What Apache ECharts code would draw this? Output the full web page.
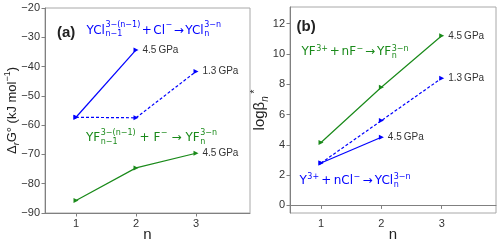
<!DOCTYPE html>
<html><head><meta charset="utf-8">
<script src="https://cdn.jsdelivr.net/npm/echarts@6/dist/echarts.min.js"></script>
<style>html,body{margin:0;padding:0;background:#fff}#c{width:500px;height:244px}</style>
</head><body><div id="c"></div>
<script>
// ---- data ----
const nValues = [1, 2, 3];
const xTicks = [1, 2, 3];
// panel (a): Δr G° (kJ/mol)
const dG_Cl_45 = [-57.3, -34.3];
const dG_Cl_13 = [-57.3, -57.5, -41.7];
const dG_F_45 = [-85.7, -74.6, -69.6];
const yTicksA = [-90, -80, -70, -60, -50, -40, -30, -20];
// panel (b): log beta_n*
const lb_F_45 = [4.15, 7.8, 11.2];
const lb_Cl_13 = [2.8, 5.6, 8.4];
const lb_Cl_45 = [2.8, 4.5];
const yTicksB = [0, 2, 4, 6, 8, 10, 12];
const labelHigh = '4.5\u2009GPa';
const labelLow = '1.3\u2009GPa';

// ---- styles ----
const BLUE = '#0000ff', GREEN = '#1a8a1a';
const AX = '#808080', TXT = '#333333';
const SANS = '"Liberation Sans", Arial, sans-serif';
const MATH = '"DejaVu Sans", sans-serif';
const BASE = 12, SCR = 8;

function xAxisCfg(idx, min) {
  return {
    gridIndex: idx, type: 'value', min: min, max: 3.9,
    axisLine: { show: true, lineStyle: { color: AX, width: 1 } },
    axisTick: { show: true, length: 3.5, inside: false, customValues: xTicks, lineStyle: { color: AX } },
    axisLabel: { customValues: xTicks, fontSize: 11, color: TXT, fontFamily: SANS, margin: 5 },
    splitLine: { show: false },
    name: 'n', nameLocation: 'middle', nameGap: 14, nameMoveOverlap: false,
    nameTextStyle: { fontSize: 15, color: '#222', fontFamily: SANS, verticalAlign: 'top' }
  };
}
function yAxisCfg(idx, min, max, ticks, name, rich, gap) {
  return {
    gridIndex: idx, type: 'value', min: min, max: max,
    axisLine: { show: true, lineStyle: { color: AX, width: 1 } },
    axisTick: { show: true, length: 3.5, inside: false, customValues: ticks, lineStyle: { color: AX } },
    axisLabel: { customValues: ticks, fontSize: 11, color: TXT, fontFamily: SANS, margin: 5,
      formatter: v => String(v).replace('-', '\u2212') },
    splitLine: { show: false },
    name: name, nameLocation: 'middle', nameGap: gap, nameMoveOverlap: false,
    nameTextStyle: { rich: rich }
  };
}
function makeRich(size, sub) {
  return {
    a: { fontSize: size, fontFamily: SANS, color: '#222', lineHeight: size + 5 },
    s: { fontSize: sub, fontFamily: SANS, color: '#222', lineHeight: sub, verticalAlign: 'bottom', fontStyle: 'italic' },
    u: { fontSize: sub, fontFamily: SANS, color: '#222', lineHeight: sub, verticalAlign: 'top' }
  };
}

function lineSeries(xi, vals, color, dashed, label, off) {
  const data = vals.map((v, i) => {
    const item = { value: [nValues[i], v] };
    if (i === vals.length - 1) {
      item.label = { show: true, position: 'right', distance: 4, offset: off, formatter: label,
        color: TXT, fontSize: 10, fontFamily: SANS };
    }
    return item;
  });
  return {
    type: 'line', xAxisIndex: xi, yAxisIndex: xi, data: data,
    symbol: 'triangle', symbolSize: 5, symbolRotate: -90,
    itemStyle: { color: color },
    lineStyle: { color: color, width: 1.2, type: dashed ? [3, 2] : 'solid' },
    label: { show: false },
    labelLayout: { hideOverlap: false },
    z: 3
  };
}

// ---- math-like annotation layout (sequential, measured with canvas) ----
const mctx = document.createElement('canvas').getContext('2d');
function tw(t, size) { mctx.font = size + 'px "DejaVu Sans"'; return mctx.measureText(t).width; }
function mathGroup(tokens, x0, x1, baseline, color, supOff, subOff) {
  let natural = 0, gaps = 0;
  tokens.forEach(tk => {
    if (tk.g) gaps++;
    else if (tk.b) natural += tw(tk.b, BASE);
    else natural += Math.max(tk.p ? tw(tk.p, SCR) : 0, tk.d ? tw(tk.d, SCR) : 0) + 0.5;
  });
  const gap = gaps ? Math.max(0, (x1 - x0 - natural) / gaps) : 0;
  const out = [];
  let x = x0;
  const put = (t, size, bl) => out.push({
    type: 'text', x: x, y: bl - 0.36 * size, silent: true,
    style: { text: t, fill: color, font: size + 'px ' + MATH, align: 'left', verticalAlign: 'middle' }
  });
  tokens.forEach(tk => {
    if (tk.g) { x += gap; return; }
    if (tk.b) { put(tk.b, BASE, baseline); x += tw(tk.b, BASE); return; }
    x += 0.5;
    if (tk.p) put(tk.p, SCR, baseline + supOff);
    if (tk.d) put(tk.d, SCR, baseline + subOff);
    x += Math.max(tk.p ? tw(tk.p, SCR) : 0, tk.d ? tw(tk.d, SCR) : 0);
  });
  return out;
}
const M = '\u2212', AR = '\u2192';
const eqA_Cl = [{b:'YCl'},{p:'3'+M+'(n'+M+'1)',d:'n'+M+'1'},{g:1},{b:'+'},{g:1},{b:'Cl'},{p:M},{g:1},{b:AR},{g:1},{b:'YCl'},{p:'3'+M+'n',d:'n'}];
const eqA_F  = [{b:'YF'},{p:'3'+M+'(n'+M+'1)',d:'n'+M+'1'},{g:1},{b:'+'},{g:1},{b:'F'},{p:M},{g:1},{b:AR},{g:1},{b:'YF'},{p:'3'+M+'n',d:'n'}];
const eqB_F  = [{b:'YF'},{p:'3+'},{g:1},{b:'+'},{g:1},{b:'nF'},{p:M},{g:1},{b:AR},{g:1},{b:'YF'},{p:'3'+M+'n',d:'n'}];
const eqB_Cl = [{b:'Y'},{p:'3+'},{g:1},{b:'+'},{g:1},{b:'nCl'},{p:M},{g:1},{b:AR},{g:1},{b:'YCl'},{p:'3'+M+'n',d:'n'}];

const graphics = [].concat(
  mathGroup(eqA_Cl, 86.5, 221, 34.7, BLUE, -6.5, 2.5),
  mathGroup(eqA_F, 86, 217, 141.7, GREEN, -6, 3.2),
  mathGroup(eqB_F, 301.5, 408.5, 56, GREEN, -4, 3),
  mathGroup(eqB_Cl, 299.5, 410.5, 184.8, BLUE, -4.5, 3.5),
  [
    { type: 'text', x: 57, y: 33, style: { text: '(a)', fill: '#222', font: 'bold 15px ' + SANS, verticalAlign: 'middle' } },
    { type: 'text', x: 296.5, y: 27, style: { text: '(b)', fill: '#222', font: 'bold 15px ' + SANS, verticalAlign: 'middle' } }
  ]
);

const chart = echarts.init(document.getElementById('c'), null, { renderer: 'canvas' });
chart.setOption({
  animation: false,
  backgroundColor: '#fff',
  grid: [
    { left: 45, right: 250, top: 8, bottom: 31, show: true, borderColor: '#a8a8a8', borderWidth: 1,
      containLabel: false, outerBoundsMode: 'none' },
    { left: 290, right: 4, top: 7, bottom: 31, show: true, borderColor: '#a8a8a8', borderWidth: 1,
      containLabel: false, outerBoundsMode: 'none' }
  ],
  xAxis: [xAxisCfg(0, 0.483), xAxisCfg(1, 0.486)],
  yAxis: [
    yAxisCfg(0, -90, -20, yTicksA, '{a|Δ}{s|r}{a|G° (kJ mol}{u|' + M + '1}{a|)}', makeRich(13, 9), 24),
    yAxisCfg(1, -0.5, 13.1, yTicksB, '{a|logβ}{s|n}{u| *}', makeRich(15, 10), 20)
  ],
  series: [
    lineSeries(0, dG_Cl_45, BLUE, false, labelHigh, [1, -2.5]),
    lineSeries(0, dG_Cl_13, BLUE, true, labelLow, [1, -2.5]),
    lineSeries(0, dG_F_45, GREEN, false, labelHigh, [2, -3]),
    lineSeries(1, lb_F_45, GREEN, false, labelHigh, [1, -7]),
    lineSeries(1, lb_Cl_13, BLUE, true, labelLow, [1, 2]),
    lineSeries(1, lb_Cl_45, BLUE, false, labelHigh, [1, -2])
  ],
  graphic: graphics
});
</script>
</body></html>
